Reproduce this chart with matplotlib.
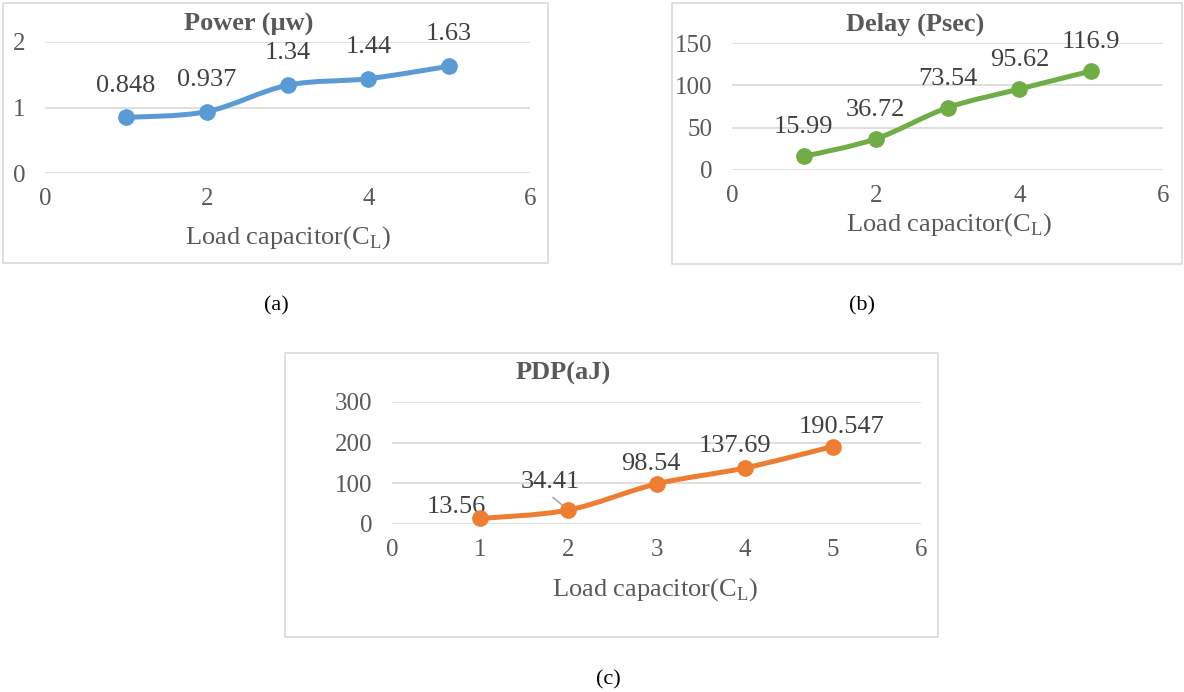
import matplotlib
matplotlib.use("Agg")
import matplotlib.pyplot as plt
from matplotlib.path import Path
from matplotlib.patches import PathPatch, Rectangle

plt.rcParams['font.family'] = ['Liberation Serif', 'DejaVu Serif']
plt.rcParams['mathtext.fontset'] = 'custom'
plt.rcParams['mathtext.rm'] = 'Liberation Serif'

load_cap = [1, 2, 3, 4, 5]
power = [0.848, 0.937, 1.34, 1.44, 1.63]
delay = [15.99, 36.72, 73.54, 95.62, 116.9]
pdp = [13.56, 34.41, 98.54, 137.69, 190.547]
power_labels = ['0.848', '0.937', '1.34', '1.44', '1.63']
delay_labels = ['15.99', '36.72', '73.54', '95.62', '116.9']
pdp_labels = ['13.56', '34.41', '98.54', '137.69', '190.547']

W, H = 1184, 692
GRAY = '#595959'
DARK = '#404040'
GRID = '#D9D9D9'

fig = plt.figure(figsize=(W / 100, H / 100), dpi=100)
fig.patch.set_facecolor('white')


def px_axes(left, top, right, bottom):
    return fig.add_axes([left / W, 1 - bottom / H, (right - left) / W, (bottom - top) / H])


def box(left, top, right, bottom):
    fig.patches.append(Rectangle((left / W, 1 - bottom / H), (right - left) / W, (bottom - top) / H,
                                 transform=fig.transFigure, fill=False, edgecolor=GRID, lw=1.2))


def smooth(ax, x, y, color):
    # Excel-like smoothed line through the points
    verts = [(x[0], y[0])]
    codes = [Path.MOVETO]
    n = len(x)
    for i in range(n - 1):
        x0, y0 = (x[i - 1], y[i - 1]) if i > 0 else (x[i], y[i])
        x3, y3 = (x[i + 2], y[i + 2]) if i + 2 < n else (x[i + 1], y[i + 1])
        c1 = (x[i] + (x[i + 1] - x0) / 6, y[i] + (y[i + 1] - y0) / 6)
        c2 = (x[i + 1] - (x3 - x[i]) / 6, y[i + 1] - (y3 - y[i]) / 6)
        verts += [c1, c2, (x[i + 1], y[i + 1])]
        codes += [Path.CURVE4] * 3
    ax.add_patch(PathPatch(Path(verts, codes), fill=False, edgecolor=color, lw=3.6,
                           capstyle='round', joinstyle='round', zorder=3))
    ax.plot(x, y, 'o', color=color, ms=11, zorder=4, clip_on=False)


def style(ax, ymax, ystep, xticks):
    ax.set_xlim(0, 6)
    ax.set_ylim(0, ymax)
    ax.set_yticks(range(0, ymax + 1, ystep))
    ax.set_xticks(xticks)
    for s in ax.spines.values():
        s.set_visible(False)
    ax.grid(axis='y', color=GRID, lw=1.2)
    ax.set_axisbelow(True)
    ax.tick_params(length=0, labelsize=18, labelcolor=GRAY)
    ax.tick_params(axis='x', pad=11)
    ax.tick_params(axis='y', pad=14)
    ax.set_facecolor('none')


XLAB = r'Load capacitor(C$_{\mathrm{L}}$)'

# (a) Power
box(3, 3, 548, 263)
ax1 = px_axes(45, 42, 530, 173)
style(ax1, 2, 1, [0, 2, 4, 6])
smooth(ax1, load_cap, power, '#5B9BD5')
for xv, yv, t in zip(load_cap, power, power_labels):
    ax1.annotate(t, (xv, yv), xytext=(0, 23), textcoords='offset points', ha='center', va='center',
                 fontsize=19, color=DARK, annotation_clip=False)
fig.text(249 / W, 1 - 24 / H, 'Power (µw)', ha='center', va='center', fontsize=19, fontweight='bold', color=GRAY)
fig.text(288 / W, 1 - 238 / H, XLAB, ha='center', va='center', fontsize=19, color=GRAY)

# (b) Delay
box(672, 3, 1182, 264)
ax2 = px_axes(732, 43, 1163, 170)
style(ax2, 150, 50, [0, 2, 4, 6])
smooth(ax2, load_cap, delay, '#70AD47')
for xv, yv, t in zip(load_cap, delay, delay_labels):
    ax2.annotate(t, (xv, yv), xytext=(0, 21), textcoords='offset points', ha='center', va='center',
                 fontsize=19, color=DARK, annotation_clip=False)
fig.text(915 / W, 1 - 24 / H, 'Delay (Psec)', ha='center', va='center', fontsize=19, fontweight='bold', color=GRAY)
fig.text(949 / W, 1 - 225 / H, XLAB, ha='center', va='center', fontsize=19, color=GRAY)

# (c) PDP
box(285, 353, 938, 637)
ax3 = px_axes(392, 402, 921, 524)
style(ax3, 300, 100, [0, 1, 2, 3, 4, 5, 6])
smooth(ax3, load_cap, pdp, '#ED7D31')
pdp_offsets = [(-17, 8), (-13, 20), (-4, 14), (-7, 16), (6, 14)]
for (xv, yv, t), off in zip(zip(load_cap, pdp, pdp_labels), pdp_offsets):
    ax3.annotate(t, (xv, yv), xytext=off, textcoords='offset points', ha='center', va='center',
                 fontsize=19, color=DARK, annotation_clip=False)
ax3.annotate('', (load_cap[1], pdp[1]), xytext=(-11, 9), textcoords='offset points',
             arrowprops=dict(arrowstyle='-', color='#A6A6A6', lw=1.2, shrinkA=0, shrinkB=0))
fig.text(563 / W, 1 - 373 / H, 'PDP(aJ)', ha='center', va='center', fontsize=19, fontweight='bold', color=GRAY)
fig.text(655 / W, 1 - 590 / H, XLAB, ha='center', va='center', fontsize=19, color=GRAY)

# captions
fig.text(276 / W, 1 - 306 / H, '(a)', ha='center', va='center', fontsize=16, color='black')
fig.text(862 / W, 1 - 306 / H, '(b)', ha='center', va='center', fontsize=16, color='black')
fig.text(608 / W, 1 - 680 / H, '(c)', ha='center', va='center', fontsize=16, color='black')

fig.savefig('out.png', dpi=100, facecolor='white')
